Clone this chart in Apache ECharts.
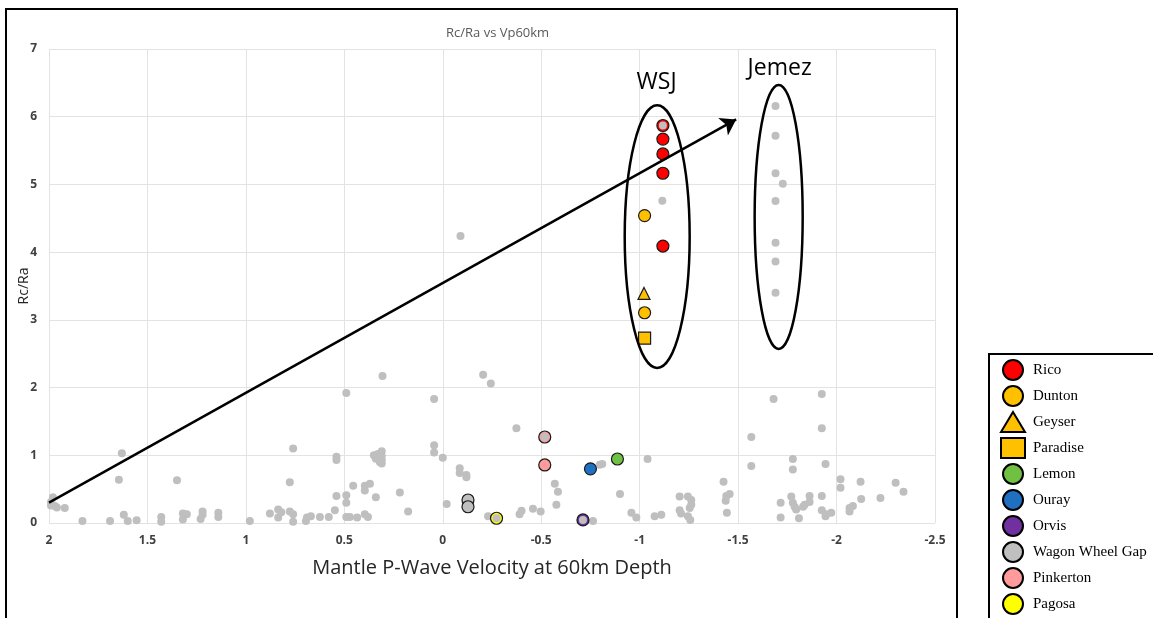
<!DOCTYPE html>
<html>
<head>
<meta charset="utf-8">
<title>Rc/Ra vs Vp60km</title>
<script src="https://cdn.jsdelivr.net/npm/echarts@6/dist/echarts.min.js"></script>
<style>
html, body { margin: 0; padding: 0; background: #fff; }
#main { width: 1153px; height: 618px; }
</style>
</head>
<body>
<div id="main"></div>
<script>
// all samples (grey background points), [Vp60km anomaly, Rc/Ra]
const otherPts = [
  [1.63,1.03],[1.645,0.64],[1.35,0.63],
  [1.98,0.38],[1.99,0.31],[1.97,0.25],[1.96,0.23],[1.99,0.26],[1.92,0.22],
  [1.83,0.03],[1.69,0.03],[1.62,0.12],[1.60,0.03],[1.555,0.04],
  [1.43,0.09],[1.43,0.02],[1.32,0.14],[1.30,0.13],[1.32,0.05],
  [1.22,0.17],[1.22,0.12],[1.23,0.06],[1.14,0.15],[1.14,0.09],[0.98,0.03],
  [0.306,2.17],[0.49,1.92],[0.044,1.83],[0.76,1.10],[0.54,0.98],[0.54,0.93],
  [0.34,0.98],[0.33,1.02],[0.31,1.06],[0.31,0.99],[0.31,0.93],[0.32,0.90],[0.34,0.95],[0.31,0.88],[0.35,1.00],
  [0.044,1.15],[0.044,1.04],[0.0,0.965],
  [0.777,0.60],[0.455,0.55],[0.396,0.55],[0.396,0.48],[0.37,0.58],[0.54,0.40],[0.49,0.41],[0.49,0.30],
  [0.34,0.38],[0.218,0.45],[0.176,0.17],[-0.02,0.28],[0.548,0.19],
  [0.878,0.14],[0.836,0.20],[0.836,0.08],[0.82,0.16],[0.777,0.17],[0.76,0.13],[0.76,0.02],
  [0.69,0.08],[0.67,0.10],[0.695,0.03],[0.624,0.09],[0.579,0.09],[0.49,0.09],[0.472,0.09],[0.435,0.08],
  [0.396,0.13],[0.38,0.09],
  [-0.09,4.24],[-0.205,2.19],[-0.244,2.06],[-0.374,1.40],
  [-0.797,0.86],[-0.81,0.87],[-1.04,0.945],
  [-0.086,0.81],[-0.086,0.74],[-0.12,0.71],[-0.12,0.675],
  [-0.23,0.10],[-0.39,0.13],[-0.40,0.18],[-0.458,0.21],[-0.497,0.17],
  [-0.569,0.58],[-0.585,0.46],[-0.577,0.27],[-0.763,0.03],[-0.90,0.43],[-0.958,0.15],[-0.983,0.08],
  [-1.115,4.76],
  [-1.076,0.10],[-1.11,0.12],
  [-1.203,0.39],[-1.245,0.39],[-1.262,0.34],[-1.262,0.27],[-1.254,0.22],[-1.203,0.19],[-1.21,0.14],[-1.245,0.10],[-1.257,0.045],
  [-1.426,0.61],[-1.44,0.40],[-1.457,0.43],[-1.437,0.33],[-1.443,0.15],
  [-1.567,1.27],[-1.567,0.84],[-1.68,1.83],[-1.925,1.905],[-1.925,1.40],
  [-1.778,0.945],[-1.778,0.79],[-1.944,0.87],
  [-1.716,0.30],[-1.716,0.08],
  [-1.77,0.39],[-1.778,0.30],[-1.787,0.24],[-1.795,0.20],[-1.809,0.07],
  [-1.838,0.27],[-1.863,0.40],[-1.863,0.31],[-1.83,0.24],
  [-1.925,0.40],[-1.925,0.19],[-1.948,0.13],[-1.973,0.15],[-1.944,0.10],
  [-2.02,0.645],[-2.02,0.52],[-2.122,0.61],[-2.125,0.355],[-2.223,0.37],[-2.30,0.595],[-2.34,0.46],
  [-2.066,0.22],[-2.083,0.25],[-2.066,0.17],
  // Jemez
  [-1.69,6.16],[-1.69,5.72],[-1.69,5.165],[-1.727,5.01],[-1.69,4.755],[-1.69,4.14],[-1.69,3.86],[-1.69,3.40]
]
// grey points that sit on top of coloured markers
const otherOnTop = [[-1.118,5.87],[-0.518,1.27],[-0.273,0.07],[-0.712,0.045]]

const rico = [[-1.118,5.87],[-1.118,5.67],[-1.118,5.45],[-1.118,5.165],[-1.118,4.09]]
const dunton = [[-1.025,4.54],[-1.025,3.105]]
const geyser = [[-1.022,3.39]]
const paradise = [[-1.025,2.73]]
const lemon = [[-0.887,0.945]]
const ouray = [[-0.75,0.80]]
const orvis = [[-0.712,0.045]]
const wagonWheelGap = [[-0.128,0.34],[-0.128,0.24]]
const pinkerton = [[-0.518,1.27],[-0.518,0.857]]
const pagosa = [[-0.273,0.07]]

// hand-drawn annotations (data coordinates)
const arrowFrom = [2, 0.30]
const arrowTo = [-1.49, 5.96]
const groupNames = ['WSJ', 'Jemez']
const groupCenters = [[-1.089, 4.23], [-1.706, 4.52]]
const groupRadii = [[0.165, 1.94], [0.122, 1.95]]
const groupLabelPos = [[-1.086, 6.51], [-1.711, 6.72]]

const FONT = '"Open Sans", sans-serif'

function site(name, data, color, symbol, size) {
  return {
    name: name,
    type: 'scatter',
    data: data,
    symbol: symbol || 'circle',
    symbolSize: size || 12,
    z: 3,
    itemStyle: { color: color, borderColor: '#1a1a1a', borderWidth: 1.2, opacity: 1 }
  }
}

let chart = echarts.init(document.getElementById('main'))
chart.setOption({
  animation: false,
  title: {
    text: 'Rc/Ra vs Vp60km',
    left: 441,
    top: 22,
    textStyle: { fontFamily: FONT, fontSize: 13, fontWeight: 'normal', color: '#595959' }
  },
  grid: { left: 49, right: 218, top: 49, bottom: 95 },
  legend: {
    orient: 'vertical',
    left: 995,
    top: 354,
    height: 300,
    itemWidth: 24,
    itemHeight: 20,
    itemGap: 4,
    selectedMode: false,
    itemStyle: { borderColor: '#000', borderWidth: 2 },
    textStyle: { fontFamily: '"Liberation Serif", serif', fontSize: 15, color: '#000', padding: [0, 0, 0, 3] },
    data: ['Rico', 'Dunton', 'Geyser', 'Paradise', 'Lemon', 'Ouray', 'Orvis', 'Wagon Wheel Gap', 'Pinkerton', 'Pagosa']
  },
  xAxis: {
    type: 'value',
    inverse: true,
    min: -2.5,
    max: 2,
    interval: 0.5,
    name: 'Mantle P-Wave Velocity at 60km Depth',
    nameLocation: 'middle',
    nameMoveOverlap: false,
    nameGap: 35,
    nameTextStyle: { fontFamily: FONT, fontSize: 20, color: '#262626' },
    axisLine: { show: false },
    axisTick: { show: false },
    axisLabel: { margin: 12, fontFamily: FONT, fontSize: 12, fontWeight: 'bold', color: '#404040' },
    splitLine: { lineStyle: { color: '#e3e3e3', width: 1 } }
  },
  yAxis: {
    type: 'value',
    min: 0,
    max: 7,
    interval: 1,
    name: 'Rc/Ra',
    nameLocation: 'middle',
    nameMoveOverlap: false,
    nameGap: 18,
    nameTextStyle: { fontFamily: FONT, fontSize: 14, color: '#262626' },
    axisLine: { show: false },
    axisTick: { show: false },
    axisLabel: { margin: 12, fontFamily: FONT, fontSize: 12, fontWeight: 'bold', color: '#404040' },
    splitLine: { lineStyle: { color: '#e3e3e3', width: 1 } }
  },
  series: [
    {
      name: 'All',
      type: 'scatter',
      data: otherPts,
      symbolSize: 8,
      z: 2,
      itemStyle: { color: '#bfbfbf', opacity: 1 },
      markLine: {
        silent: true,
        symbol: ['none', 'arrow'],
        symbolSize: 15,
        label: { show: false },
        lineStyle: { color: '#000', width: 2.5, type: 'solid' },
        data: [[{ coord: arrowFrom }, { coord: arrowTo }]]
      }
    },
    site('Rico', rico, '#ff0000'),
    site('Dunton', dunton, '#ffc000'),
    site('Geyser', geyser, '#ffc000', 'triangle', 12),
    site('Paradise', paradise, '#ffc000', 'rect', 12),
    site('Lemon', lemon, '#70c043'),
    site('Ouray', ouray, '#1f70c1'),
    site('Orvis', orvis, '#7030a0'),
    site('Wagon Wheel Gap', wagonWheelGap, '#bfbfbf'),
    site('Pinkerton', pinkerton, '#ff9b9b'),
    site('Pagosa', pagosa, '#ffff00'),
    {
      name: 'All (top)',
      type: 'scatter',
      data: otherOnTop,
      symbolSize: 8,
      z: 4,
      itemStyle: { color: '#bfbfbf', opacity: 1 }
    }
  ]
})

function drawAnnotations() {
  let els = [
    { type: 'rect', shape: { x: 6, y: 9, width: 951, height: 700 },
      style: { fill: 'none', stroke: '#000', lineWidth: 2 }, silent: true },
    { type: 'rect', shape: { x: 989, y: 354, width: 220, height: 300 },
      style: { fill: 'none', stroke: '#000', lineWidth: 2 }, silent: true }
  ]
  groupNames.forEach(function (name, i) {
    let c = chart.convertToPixel({ gridIndex: 0 }, groupCenters[i])
    let e = chart.convertToPixel({ gridIndex: 0 }, [groupCenters[i][0] + groupRadii[i][0], groupCenters[i][1] + groupRadii[i][1]])
    let t = chart.convertToPixel({ gridIndex: 0 }, groupLabelPos[i])
    els.push({
      type: 'ellipse',
      shape: { cx: c[0], cy: c[1], rx: Math.abs(e[0] - c[0]), ry: Math.abs(e[1] - c[1]) },
      style: { fill: 'none', stroke: '#000', lineWidth: 2.5 },
      z: 10, silent: true
    })
    els.push({
      type: 'text',
      x: t[0], y: t[1],
      style: { text: name, fontFamily: FONT, fontSize: 23, fill: '#000', align: 'center', verticalAlign: 'middle' },
      z: 10, silent: true
    })
  })
  chart.setOption({ graphic: els })
}
drawAnnotations()

window.onresize = function () {
  chart.resize()
  drawAnnotations()
}
</script>
</body>
</html>
